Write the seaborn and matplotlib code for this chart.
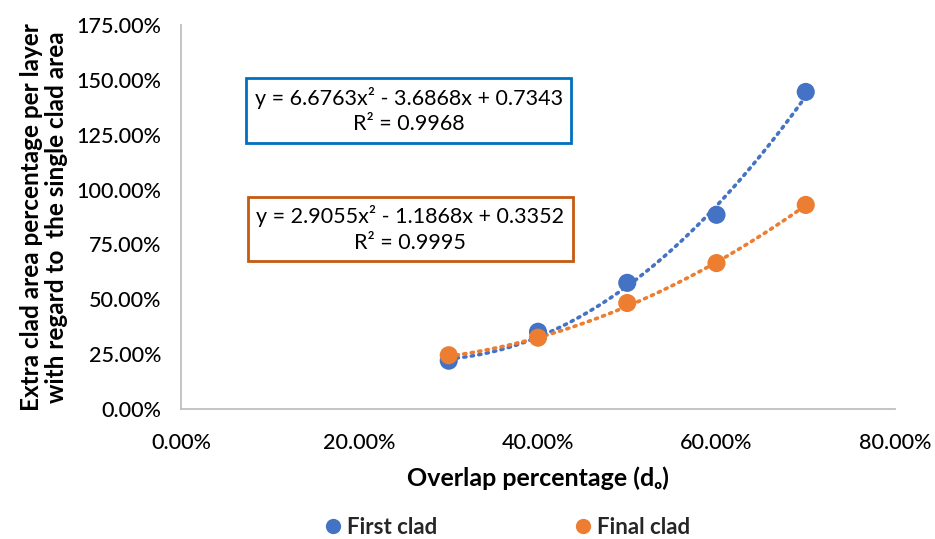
import numpy as np
import pandas as pd
import matplotlib
matplotlib.use("Agg")
import matplotlib.pyplot as plt
import seaborn as sns
from matplotlib.ticker import PercentFormatter, MultipleLocator
from matplotlib.lines import Line2D

# Overlap ratio and extra clad area (fractions)
overlap = [0.30, 0.40, 0.50, 0.60, 0.70]
first_clad = [0.220, 0.352, 0.575, 0.885, 1.445]
final_clad = [0.245, 0.325, 0.483, 0.665, 0.930]

# Quadratic trendline coefficients (a, b, c) and R²
first_coef = [6.6763, -3.6868, 0.7343]
final_coef = [2.9055, -1.1868, 0.3352]
first_r2 = 0.9968
final_r2 = 0.9995

series_names = ["First clad", "Final clad"]
blue = "#4472C4"
orange = "#ED7D31"

sns.set_theme(style="white")
plt.rcParams["font.family"] = ["Lato", "DejaVu Sans"]

df = pd.DataFrame({
    "overlap": overlap * 2,
    "area": first_clad + final_clad,
    "series": [series_names[0]] * len(overlap) + [series_names[1]] * len(overlap),
})

fig = plt.figure(figsize=(9.35, 5.39), dpi=100)
ax = fig.add_axes([181 / 935, 1 - 409 / 539, (895 - 181) / 935, (409 - 25) / 539])

# Trendlines from the fitted polynomials
xs = np.linspace(min(overlap), max(overlap), 200)
trend = pd.DataFrame({
    "overlap": np.concatenate([xs, xs]),
    "area": np.concatenate([np.polyval(first_coef, xs), np.polyval(final_coef, xs)]),
    "series": [series_names[0]] * len(xs) + [series_names[1]] * len(xs),
})
sns.lineplot(data=trend, x="overlap", y="area", hue="series",
             palette=[blue, orange], ax=ax, legend=False,
             linestyle=(0, (0.6, 1.5)), linewidth=2.6, dash_capstyle="round")

sns.scatterplot(data=df, x="overlap", y="area", hue="series",
                palette=[blue, orange], s=170, edgecolor="none",
                ax=ax, legend=False, zorder=3)

ax.set_xlim(0, 0.80)
ax.set_ylim(0, 1.75)
ax.xaxis.set_major_locator(MultipleLocator(0.20))
ax.yaxis.set_major_locator(MultipleLocator(0.25))
ax.xaxis.set_major_formatter(PercentFormatter(1.0, decimals=2))
ax.yaxis.set_major_formatter(PercentFormatter(1.0, decimals=2))
ax.tick_params(axis="both", labelsize=15.5, colors="#000000", length=0)
ax.tick_params(axis="x", pad=17)
ax.tick_params(axis="y", pad=14)
for lbl in ax.get_xticklabels() + ax.get_yticklabels():
    lbl.set_fontweight(500)

for side in ["top", "right"]:
    ax.spines[side].set_visible(False)
for side in ["left", "bottom"]:
    ax.spines[side].set_color("#BFBFBF")
    ax.spines[side].set_linewidth(1.3)

ax.set_xlabel("Overlap percentage (dₒ)", fontsize=18, fontweight="bold",
              color="#000000", labelpad=10)
ax.set_ylabel("Extra clad area percentage per layer\nwith regard to  the single clad area",
              fontsize=17.5, fontweight="bold", color="#000000", labelpad=6,
              linespacing=1.12)


def eq_text(coef, r2):
    a, b, c = coef
    sb = "-" if b < 0 else "+"
    return f"y = {a:.4f}x² {sb} {abs(b):.4f}x + {c:.4f}\nR² = {r2:.4f}"


ax.text(0.255, 1.36, eq_text(first_coef, first_r2), ha="center", va="center",
        fontsize=15.5, color="#000000", linespacing=1.35,
        bbox=dict(boxstyle="square,pad=0.4", fc="white", ec="#0070C0", lw=2))
ax.text(0.257, 0.82, eq_text(final_coef, final_r2), ha="center", va="center",
        fontsize=15.5, color="#000000", linespacing=1.35,
        bbox=dict(boxstyle="square,pad=0.4", fc="white", ec="#C55A11", lw=2))

handles = [Line2D([], [], marker="o", linestyle="none", markersize=11,
                  markerfacecolor=c, markeredgecolor="none") for c in (blue, orange)]
fig.legend(handles, series_names, loc="center", bbox_to_anchor=(0.54, 0.022),
           ncol=2, frameon=False, columnspacing=6.0, handletextpad=0.0,
           handlelength=1.2,
           prop=dict(family=["Lato", "DejaVu Sans"], weight="bold", size=16))

fig.savefig("out.png", dpi=100)
